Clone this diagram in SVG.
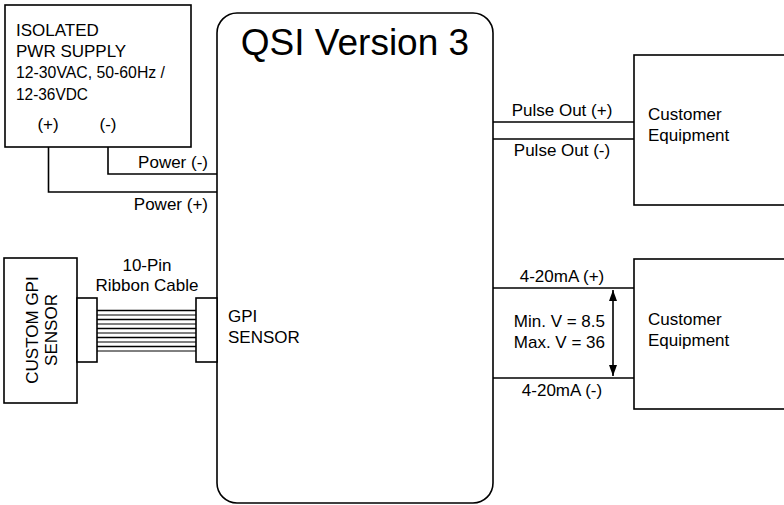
<svg xmlns="http://www.w3.org/2000/svg" width="784" height="505" viewBox="0 0 784 505">
<style>
.b{fill:#fff;stroke:#000;stroke-width:1.6}
.w{fill:none;stroke:#000;stroke-width:1.6}
text{font-family:"Liberation Sans",Arial,sans-serif;font-size:17px;fill:#000}
.c{text-anchor:middle}
.r{text-anchor:end}
</style>
<defs>
<marker id="ah" viewBox="0 0 11 8" refX="11" refY="4" markerWidth="11" markerHeight="8" orient="auto-start-reverse" markerUnits="userSpaceOnUse">
<path d="M0,0 L11,4 L0,8 z" fill="#000"/>
</marker>
</defs>
<g id="connectors">
<path class="w" d="M108,147 V174 H217"/>
<path class="w" d="M48.5,147 V192 H217"/>
<text class="r" x="208" y="168">Power (-)</text>
<text class="r" x="208" y="210">Power (+)</text>
<g id="ribbon" stroke="#000">
<line x1="97" y1="310.5" x2="196" y2="310.5" stroke-width="1.6"/>
<line x1="97" y1="315" x2="196" y2="315" stroke-width="1"/>
<line x1="97" y1="319.5" x2="196" y2="319.5" stroke-width="1.6"/>
<line x1="97" y1="324" x2="196" y2="324" stroke-width="1"/>
<line x1="97" y1="328.5" x2="196" y2="328.5" stroke-width="1.6"/>
<line x1="97" y1="333" x2="196" y2="333" stroke-width="1"/>
<line x1="97" y1="337.5" x2="196" y2="337.5" stroke-width="1.6"/>
<line x1="97" y1="342" x2="196" y2="342" stroke-width="1"/>
<line x1="97" y1="346.5" x2="196" y2="346.5" stroke-width="1.6"/>
<line x1="97" y1="351" x2="196" y2="351" stroke-width="1"/>
</g>
<text class="c" x="147" y="271">10-Pin</text>
<text class="c" x="147" y="291">Ribbon Cable</text>
<line class="w" x1="493" y1="122" x2="634" y2="122"/>
<line class="w" x1="493" y1="139" x2="634" y2="139"/>
<text class="c" x="562" y="116">Pulse Out (+)</text>
<text class="c" x="562" y="156">Pulse Out (-)</text>
<line class="w" x1="493" y1="288" x2="634" y2="288"/>
<line class="w" x1="493" y1="378" x2="634" y2="378"/>
<text class="c" x="562" y="282">4-20mA (+)</text>
<text class="c" x="562" y="396">4-20mA (-)</text>
<line class="w" x1="613" y1="290" x2="613" y2="376" marker-start="url(#ah)" marker-end="url(#ah)"/>
<text class="r" x="605" y="327">Min. V = 8.5</text>
<text class="r" x="605" y="348">Max. V = 36</text>
</g>
<g id="power-supply">
<rect class="b" x="5" y="5" width="186" height="142"/>
<text x="16" y="36">ISOLATED</text>
<text x="16" y="57">PWR SUPPLY</text>
<text x="16" y="78" textLength="149" lengthAdjust="spacingAndGlyphs">12-30VAC, 50-60Hz /</text>
<text x="16" y="100" textLength="72" lengthAdjust="spacingAndGlyphs">12-36VDC</text>
<text class="c" x="48" y="130">(+)</text>
<text class="c" x="108" y="130">(-)</text>
</g>
<g id="qsi">
<rect class="b" x="217" y="13" width="276" height="490" rx="20" ry="20"/>
<text class="c" x="355" y="55" style="font-size:37px">QSI Version 3</text>
<text x="228" y="322">GPI</text>
<text x="228" y="343">SENSOR</text>
<rect class="b" x="196" y="298" width="21" height="64"/>
</g>
<g id="custom-gpi">
<rect class="b" x="4" y="258" width="73" height="145"/>
<text class="c" transform="translate(38,330) rotate(-90)">CUSTOM GPI</text>
<text class="c" transform="translate(57,330) rotate(-90)">SENSOR</text>
<rect class="b" x="77" y="298" width="20" height="64"/>
</g>
<g id="customer-1">
<rect class="b" x="634" y="55" width="160" height="150"/>
<text x="648" y="120">Customer</text>
<text x="648" y="141">Equipment</text>
</g>
<g id="customer-2">
<rect class="b" x="634" y="259" width="160" height="150"/>
<text x="648" y="325">Customer</text>
<text x="648" y="346">Equipment</text>
</g>
</svg>
